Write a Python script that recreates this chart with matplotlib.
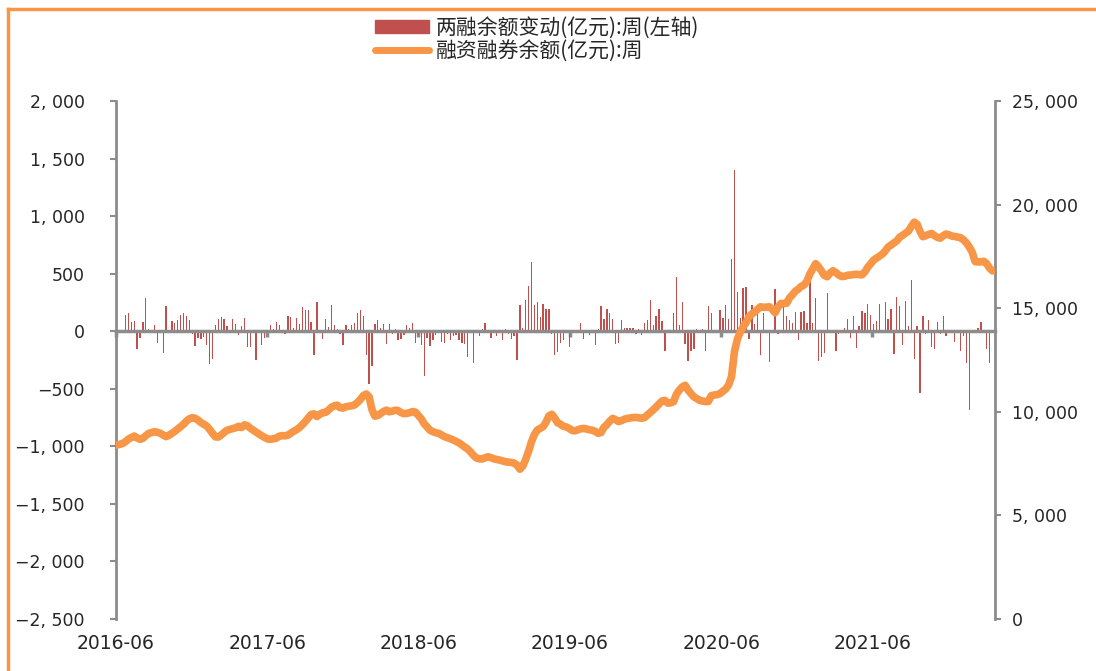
import matplotlib.pyplot as plt
import matplotlib.dates as mdates
from matplotlib.patches import Patch
from matplotlib.lines import Line2D
from matplotlib.ticker import FuncFormatter
import pandas as pd

plt.rcParams['font.family'] = ['Noto Sans CJK SC', 'DejaVu Sans']

# weekly dates, first week of 2016-06 to 2022-03
start_date = "2016-06-03"
n_weeks = 303

# 两融余额变动(亿元):周  -- weekly change, left axis
change = [
    5, -5, 10, 139, 154, 84, 87, -157, -55, 84,
    287, 20, 8, 55, -99, 6, -189, 220, 10, 87,
    75, 96, 139, 154, 133, 96, -20, -130, -58, -70,
    -49, -122, -281, -238, 52, 107, 125, 107, 44, 8,
    107, 64, -35, 44, 119, -136, -136, 8, -246, 6,
    -122, -55, 5, 52, 17, 84, 55, 4, -20, 130,
    122, 29, 119, 64, 209, 186, 186, 84, -209, 252,
    5, -64, 107, 35, 232, 52, 17, -20, -122, 52,
    17, 55, 75, 154, 186, 130, -209, -455, -302, 64,
    96, 29, 64, -107, 64, -20, 17, -78, -70, -35,
    52, 29, 75, -101, -35, -122, -391, -55, -130, -78,
    -35, -15, -93, -101, -26, -78, -43, -35, -78, -101,
    -107, -223, -15, -275, 9, -43, 17, 75, 6, -55,
    6, -43, 9, -78, 17, -20, -64, -43, -246, 232,
    29, 267, 397, 600, 232, 255, 122, 240, 197, 197,
    -20, -209, -180, -101, -78, -15, -136, 9, 6, 9,
    75, -64, 9, -35, 6, -122, 17, 220, 107, 197,
    154, 107, -107, -101, 96, 32, 32, 32, 32, -20,
    23, -35, 75, 96, 275, 52, 130, 197, 87, -171,
    9, 9, 154, 467, 55, 255, -107, -258, -171, -151,
    17, 6, 17, -171, 220, 154, 9, 6, 186, 119,
    232, 107, 624, 1400, 342, 119, 377, 386, -64, 232,
    64, 154, -209, 154, 9, -267, 9, 365, -20, 9,
    212, 130, 96, 75, 165, -78, 165, 177, 75, 545,
    75, 287, -258, -223, -188, 334, 9, 9, -171, -20,
    6, 29, 107, -55, 130, -145, 44, 177, 154, 240,
    142, 64, 87, 240, 9, 252, 107, 197, -200, 299,
    220, -122, 264, 44, 444, -238, 44, -537, 130, -20,
    96, -136, -157, 84, -20, 130, -44, 9, 6, -93,
    9, -171, -44, -275, -681, 9, 9, 29, 84, 9,
    -157, -275, 9,
]

# 融资融券余额(亿元):周  -- balance, right axis
balance = [
    8400, 8430, 8470, 8560, 8680, 8760, 8830, 8740, 8670, 8720,
    8850, 8960, 9000, 9040, 9010, 8960, 8880, 8800, 8870, 8960,
    9060, 9170, 9280, 9400, 9550, 9660, 9715, 9690, 9600, 9480,
    9400, 9310, 9150, 8960, 8790, 8780, 8880, 9000, 9110, 9150,
    9190, 9230, 9300, 9240, 9370, 9330, 9210, 9120, 9020, 8930,
    8840, 8760, 8690, 8670, 8700, 8730, 8820, 8850, 8840, 8870,
    8970, 9060, 9140, 9240, 9380, 9530, 9700, 9870, 9900, 9770,
    9880, 9960, 9970, 10080, 10220, 10290, 10320, 10200, 10180, 10240,
    10270, 10290, 10330, 10450, 10600, 10780, 10860, 10720, 10100, 9790,
    9820, 9920, 10020, 10080, 10000, 10030, 10080, 10060, 9960, 9910,
    9920, 9960, 10010, 9980, 9820, 9660, 9420, 9270, 9110, 9040,
    8990, 8960, 8880, 8800, 8750, 8700, 8640, 8570, 8500, 8400,
    8300, 8200, 8060, 7900, 7770, 7730, 7720, 7780, 7830, 7790,
    7730, 7700, 7670, 7630, 7590, 7570, 7560, 7520, 7430, 7230,
    7380, 7700, 8100, 8550, 8900, 9120, 9200, 9280, 9500, 9800,
    9880, 9700, 9470, 9400, 9300, 9270, 9200, 9100, 9080, 9130,
    9180, 9200, 9170, 9130, 9110, 9050, 8960, 9000, 9250, 9380,
    9550, 9680, 9620, 9530, 9570, 9640, 9680, 9700, 9720, 9730,
    9710, 9690, 9720, 9850, 9970, 10100, 10230, 10380, 10520, 10550,
    10420, 10430, 10490, 10850, 11050, 11200, 11280, 11050, 10880, 10720,
    10640, 10550, 10520, 10490, 10500, 10780, 10810, 10830, 10880, 10990,
    11100, 11300, 11700, 12900, 13500, 13850, 14100, 14300, 14600, 14720,
    14820, 14950, 15070, 15040, 15050, 15070, 14950, 14780, 15050, 15230,
    15220, 15240, 15500, 15650, 15820, 15920, 16050, 16120, 16300, 16650,
    16900, 17150, 17000, 16800, 16580, 16520, 16700, 16810, 16720, 16600,
    16530, 16540, 16590, 16600, 16620, 16640, 16620, 16610, 16760, 16980,
    17150, 17320, 17420, 17510, 17610, 17760, 17950, 18050, 18150, 18250,
    18430, 18520, 18620, 18720, 18950, 19150, 19050, 18700, 18450, 18500,
    18560, 18610, 18500, 18420, 18380, 18500, 18580, 18540, 18480, 18460,
    18430, 18400, 18300, 18150, 17950, 17700, 17250, 17230, 17240, 17260,
    17150, 16930, 16800,
]

year_ticks = ["2016-06", "2017-06", "2018-06", "2019-06", "2020-06", "2021-06"]
left_ticks = list(range(-2500, 2001, 500))
right_ticks = list(range(0, 25001, 5000))

label_change = "两融余额变动(亿元):周(左轴)"
label_balance = "融资融券余额(亿元):周"

bar_color = "#C0504D"
line_color = "#F79646"
axis_grey = "#8C8C8C"
text_color = "#262626"
num_font = ["DejaVu Sans"]

dates = pd.date_range(start_date, periods=n_weeks, freq="7D")


def fmt_num(v, pos=None):
    s = f"{abs(v):,.0f}".replace(",", ", ")
    return ("\u2212" + s) if v < 0 else s


fig = plt.figure(figsize=(10.96, 6.71), dpi=100)
ax = fig.add_axes([116 / 1096, 1 - 619 / 671, (995 - 116) / 1096, (619 - 101) / 671])

ax.bar(dates, change, width=3.2, color=bar_color, zorder=2)
ax.set_ylim(-2500, 2000)
ax.set_yticks(left_ticks)
ax.yaxis.set_major_formatter(FuncFormatter(fmt_num))
ax.set_xlim(pd.Timestamp("2016-06-01"), pd.Timestamp("2022-03-24"))

tick_dates = [pd.Timestamp(t + "-01") for t in year_ticks]
ax.set_xticks(tick_dates)
ax.xaxis.set_major_formatter(mdates.DateFormatter("%Y-%m"))

for side in ["top", "right"]:
    ax.spines[side].set_visible(False)
ax.spines["left"].set_color(axis_grey)
ax.spines["left"].set_linewidth(2)
ax.spines["bottom"].set_position(("data", 0))
ax.spines["bottom"].set_color(axis_grey)
ax.spines["bottom"].set_linewidth(2.5)
ax.spines["bottom"].set_zorder(3)
ax.tick_params(axis="y", direction="out", length=4.5, width=1.5, color=axis_grey,
               labelsize=12.5, labelcolor=text_color, pad=18)
ax.tick_params(axis="x", direction="out", length=4.5, width=2.5, color=axis_grey,
               labelbottom=False)
for lab in ax.get_yticklabels():
    lab.set_family(num_font)

ax2 = ax.twinx()
ax2.plot(dates, balance, color=line_color, linewidth=5.5, solid_capstyle="round", zorder=4)
ax2.set_ylim(0, 25000)
ax2.set_yticks(right_ticks)
ax2.yaxis.set_major_formatter(FuncFormatter(fmt_num))
for side in ["top", "left", "bottom"]:
    ax2.spines[side].set_visible(False)
ax2.spines["right"].set_color(axis_grey)
ax2.spines["right"].set_linewidth(2)
ax2.tick_params(axis="y", direction="out", length=4.5, width=1.5, color=axis_grey,
                labelsize=12.5, labelcolor=text_color, pad=8)
# year labels along the bottom edge
ax2.xaxis.set_visible(True)
ax2.tick_params(axis="x", length=0, labelbottom=True, labelsize=13.5,
                labelcolor=text_color, pad=11)
for lab in ax2.get_yticklabels() + ax2.get_xticklabels():
    lab.set_family(num_font)

handles = [Patch(color=bar_color), Line2D([], [], color=line_color, linewidth=5,
                                           solid_capstyle="round")]
fig.legend(handles, [label_change, label_balance], loc="upper left",
           bbox_to_anchor=(375 / 1096, 1 - 17 / 671), frameon=False, fontsize=15,
           handlelength=2.6, handleheight=0.55, labelspacing=0.05,
           handletextpad=0.3, borderaxespad=0, borderpad=0,
           labelcolor=text_color)

# orange frame on the top and left edges
fig.add_artist(Line2D([8 / 1096, 1], [1 - 9 / 671, 1 - 9 / 671], color=line_color,
                      linewidth=2.5, transform=fig.transFigure))
fig.add_artist(Line2D([8 / 1096, 8 / 1096], [0, 1 - 9 / 671], color=line_color,
                      linewidth=2.5, transform=fig.transFigure))

fig.savefig("out.png", dpi=100)
